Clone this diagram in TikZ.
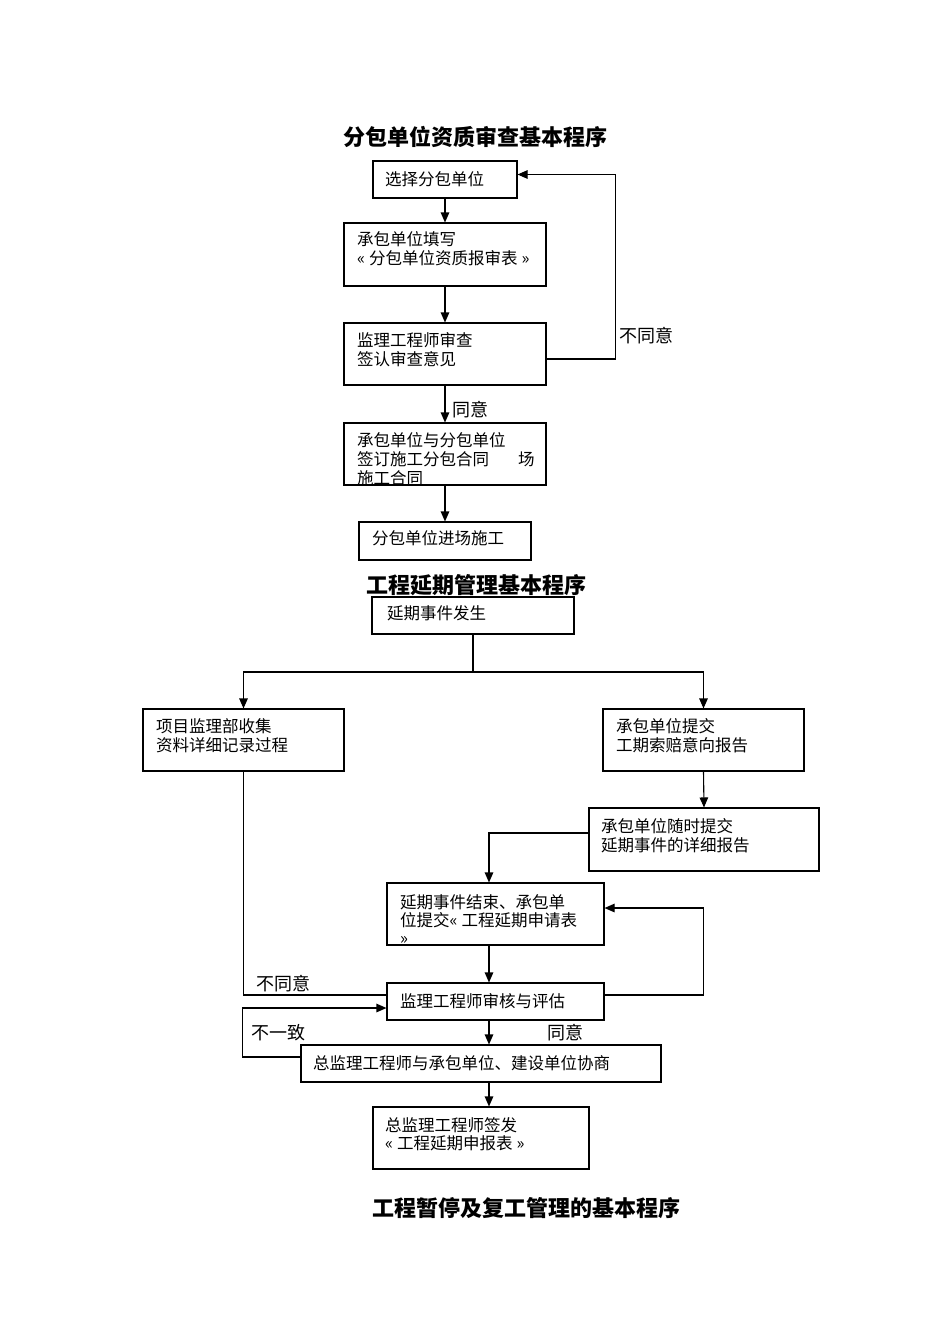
\documentclass[tikz,border=0pt]{standalone}
\usepackage{fontspec}
\setmainfont{Noto Sans CJK SC}
\usetikzlibrary{arrows.meta}
\newcommand{\myLq}{«\hspace{4pt}}
\newcommand{\myRq}{\hspace{4pt}»}
\begin{document}
\begin{tikzpicture}[x=1pt,y=-1pt,
  box/.style={draw, line width=1.1pt, inner sep=0pt},
  txt/.style={anchor=north west, inner sep=0pt, align=left, font=\fontsize{16.5}{19}\selectfont},
  lbl/.style={inner sep=0pt, font=\fontsize{18}{20}\selectfont},
  ttl/.style={inner sep=0pt, font=\fontsize{22}{24}\selectfont\bfseries},
  arr/.style={line width=1.1pt, -{Triangle[length=10pt,width=8.5pt]}},
  ln/.style={line width=1.1pt}]
\useasboundingbox[fill=white] (0,0) rectangle (950,1344);

% ---------- Section 1 ----------
\node[ttl] (T1) at (475.5,137) {分包单位资质审查基本程序};
\node[box, minimum width=144pt, minimum height=37pt] (A1) at (445,179.5) {};
\node[box, minimum width=202pt, minimum height=63pt] (A2) at (445,254.5) {};
\node[box, minimum width=202pt, minimum height=62pt] (A3) at (445,354) {};
\node[box, minimum width=202pt, minimum height=62pt] (A4) at (445,454) {};
\node[box, minimum width=172pt, minimum height=38pt] (A5) at (445,541) {};

\node[txt] (A1t) at (385,171) {选择分包单位};
\node[txt] (A2t) at (357,231) {承包单位填写\\\myLq 分包单位资质报审表\myRq};
\node[txt] (A3t) at (357,332) {监理工程师审查\\签认审查意见};
\node[txt] (A4t) at (357,432) {承包单位与分包单位\\签订施工分包合同\hspace{29pt}场\\施工合同};
\node[txt] (A5t) at (372,530) {分包单位进场施工};

\draw[arr] (A1.south) -- (A2.north);
\draw[arr] (A2.south) -- (A3.north);
\draw[arr] (A3.south) -- (A4.north);
\draw[arr] (A4.south) -- (A5.north);
\draw[arr] ([yshift=-5pt]A3.east) -- ++(69,0) |- ([yshift=5pt]A1.east);
\node[lbl] (L1) at (646,336) {不同意};
\node[lbl] (L2) at (470,410) {同意};

% ---------- Section 2 ----------
\node[ttl] (T2) at (476,585) {工程延期管理基本程序};
\node[box, minimum width=202pt, minimum height=37pt] (B1) at (473,615.5) {};
\node[box, minimum width=201pt, minimum height=62pt] (B2) at (243.5,740) {};
\node[box, minimum width=201pt, minimum height=62pt] (B3) at (703.5,740) {};
\node[box, minimum width=230pt, minimum height=63pt] (B4) at (704,839.5) {};
\node[box, minimum width=217pt, minimum height=62pt] (B5) at (495.5,914) {};
\node[box, minimum width=217pt, minimum height=37pt] (B6) at (495.5,1001.5) {};
\node[box, minimum width=360pt, minimum height=37pt] (B7) at (481,1063.5) {};
\node[box, minimum width=216pt, minimum height=62pt] (B8) at (481,1138) {};

\node[txt] (B1t) at (387,605) {延期事件发生};
\node[txt] (B2t) at (156,718) {项目监理部收集\\资料详细记录过程};
\node[txt] (B3t) at (616,718) {承包单位提交\\工期索赔意向报告};
\node[txt] (B4t) at (601,818) {承包单位随时提交\\延期事件的详细报告};
\node[txt, font=\fontsize{16.5}{18}\selectfont] (B5t) at (400,894) {延期事件结束、承包单\\位提交\myLq 工程延期申请表\\»};
\node[txt] (B6t) at (400,993) {监理工程师审核与评估};
\node[txt] (B7t) at (313,1055) {总监理工程师与承包单位、建设单位协商};
\node[txt, font=\fontsize{16.5}{18}\selectfont] (B8t) at (385,1117) {总监理工程师签发\\\myLq 工程延期申报表\myRq};

\coordinate (J) at (473,672);
\coordinate (cx) at (489,0);
\draw[ln] (B1.south) -- (J);
\draw[arr] (J) -| (B2.north);
\draw[arr] (J) -| (B3.north);
\draw[arr] (B3.south) -- (B4.north);
\draw[arr] ([yshift=6.5pt]B4.west) -| (cx |- B5.north);
\draw[arr] (cx |- B5.south) -- (cx |- B6.north);
\draw[arr] ([yshift=6.5pt]B6.east) -- ++(99,0) |- ([yshift=6pt]B5.east);
\draw[ln] (B2.south) |- ([yshift=6.5pt]B6.west);
\draw[arr] ([yshift=6.5pt]B7.west) -- ++(-58,0) |- ([yshift=-6.5pt]B6.west);
\draw[arr] (cx |- B6.south) -- (cx |- B7.north);
\draw[arr] (cx |- B7.south) -- (cx |- B8.north);
\node[lbl] (L3) at (283,984) {不同意};
\node[lbl] (L4) at (278,1033) {不一致};
\node[lbl] (L5) at (565,1033) {同意};

% ---------- Section 3 title ----------
\node[ttl] (T3) at (526,1208) {工程暂停及复工管理的基本程序};
\end{tikzpicture}
\end{document}
